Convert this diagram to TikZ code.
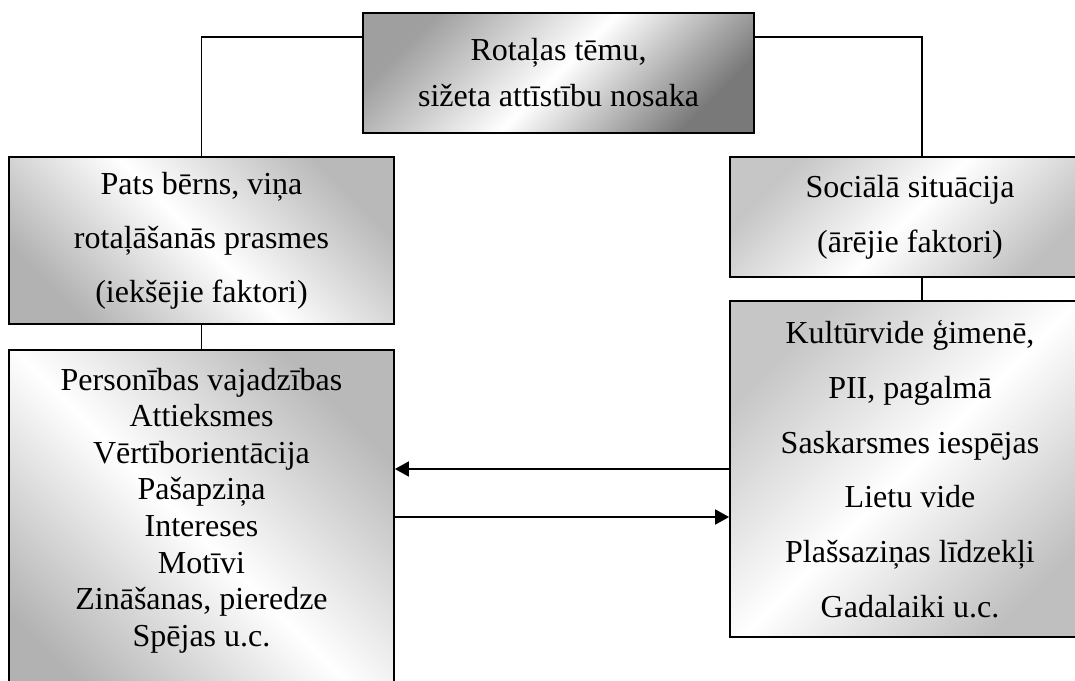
\documentclass[tikz,border=0pt]{standalone}
\usepackage{fontspec}
\setmainfont{Liberation Serif}
\usetikzlibrary{arrows.meta}

\tikzset{
  box/.style={draw, line width=1.8pt, align=center, inner sep=0pt,
    shading=axis, middle color=white},
  tipbox/.style={box, top color=gray!75, bottom color=gray!95!black, middle color=white, shading angle=45},
  leftbox/.style={box, top color=gray!55, bottom color=gray!60, middle color=white, shading angle=-45},
  rightbox/.style={box, top color=gray!45, bottom color=gray!50, middle color=white, shading angle=45},
  conn/.style={line width=1.8pt},
  arr/.style={conn, -{Triangle[length=14pt,width=15pt]}}
}

\begin{document}
\begin{tikzpicture}[x=1pt, y=-1pt]

  \useasboundingbox (0,0) rectangle (1075,680);
  \clip (0,0) rectangle (1075,680);

    % boxes
  \node[tipbox, minimum width=391pt, minimum height=120pt,
    font=\fontsize{32}{46}\selectfont] (topic) at (558.5,73)
    {Rotaļas tēmu,\\sižeta attīstību nosaka};

  \node[leftbox, minimum width=385pt, minimum height=167pt,
    font=\fontsize{32}{54}\selectfont] (inner) at (201.5,240.5)
    {Pats bērns, viņa\\rotaļāšanās prasmes\\(iekšējie faktori)};

  \node[rightbox, minimum width=360pt, minimum height=120pt,
    font=\fontsize{32}{55}\selectfont] (social) at (910,217)
    {Sociālā situācija\\(ārējie faktori)};

  \node[leftbox, anchor=north, minimum width=385pt, inner ysep=18pt,
    text depth=60pt, font=\fontsize{32}{36.6}\selectfont] (personal) at (201.5,349)
    {Personības vajadzības\\Attieksmes\\Vērtīborientācija\\Pašapziņa\\Intereses\\Motīvi\\Zināšanas, pieredze\\Spējas u.c.};

  \node[rightbox, minimum width=360pt, minimum height=336pt,
    font=\fontsize{32}{54.8}\selectfont] (culture) at (910,469)
    {Kultūrvide ģimenē,\\PII, pagalmā\\Saskarsmes iespējas\\Lietu vide\\Plašsaziņas līdzekļi\\Gadalaiki u.c.};

    % connectors
  \draw[conn] ([yshift=36pt]topic.west) -| (inner.north);
  \draw[conn] ([yshift=36pt]topic.east) -| ([xshift=12pt]social.north);
  \draw[conn] ([xshift=12pt]social.south) -- ([xshift=12pt]culture.north);
  \draw[conn] (inner.south) -- (personal.north);

  \draw[arr] (culture.west) -- (culture.west -| personal.east);
  \draw[arr] ([yshift=-48pt]culture.west -| personal.east) -- ([yshift=-48pt]culture.west);

\end{tikzpicture}
\end{document}
